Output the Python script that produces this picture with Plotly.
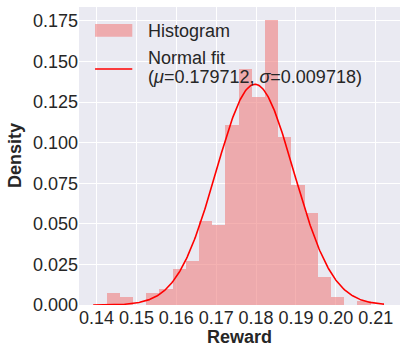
# Histogram of rewards with a fitted normal curve.

import numpy as np
import plotly.graph_objects as go

# histogram: 20 equal bins starting at bin_start, heights as fraction of samples per bin
bin_start = 0.1425
bin_width = 0.0033125
bin_heights = [
    0.0073, 0.0049, 0.0, 0.0073, 0.0098, 0.0222, 0.0272, 0.0519, 0.0494, 0.1111,
    0.1457, 0.1284, 0.1753, 0.1037, 0.0741, 0.0568, 0.0173, 0.0049, 0.0, 0.0025,
]

# normal fit parameters and the x span the curve was drawn over
fit_mu = 0.179712
fit_sigma = 0.009718
fit_x_span = [0.13915, 0.21208]

x_ticks = [0.14, 0.15, 0.16, 0.17, 0.18, 0.19, 0.20, 0.21]
y_ticks = [0.0, 0.025, 0.05, 0.075, 0.1, 0.125, 0.15, 0.175]

FONT = "Liberation Sans, Arial, sans-serif"
TEXT = "#262626"
BAR = "lightcoral"
FS = 18

centers = bin_start + bin_width * (np.arange(len(bin_heights)) + 0.5)

fit_x = np.linspace(fit_x_span[0], fit_x_span[1], 400)
fit_y = np.exp(-0.5 * ((fit_x - fit_mu) / fit_sigma) ** 2) / (fit_sigma * np.sqrt(2 * np.pi))
fit_y = fit_y * bin_width  # same scale as the per-bin fractions

fig = go.Figure()
fig.add_trace(
    go.Bar(
        x=centers,
        y=bin_heights,
        width=bin_width,
        marker=dict(color=BAR, line=dict(width=0)),
        opacity=0.6,
        name="Histogram",
        showlegend=False,
    )
)
fig.add_trace(
    go.Scatter(
        x=fit_x,
        y=fit_y,
        mode="lines",
        line=dict(color="red", width=1.6),
        name="Normal fit",
        showlegend=False,
    )
)

# legend drawn by hand to get matplotlib-sized handles
fig.add_shape(
    type="rect", xref="paper", yref="paper",
    x0=0.05, x1=0.166, y0=0.900, y1=0.943,
    fillcolor=BAR, opacity=0.6, line=dict(width=0), layer="above",
)
fig.add_shape(
    type="line", xref="paper", yref="paper",
    x0=0.05, x1=0.166, y0=0.792, y1=0.792,
    line=dict(color="red", width=1.6), layer="above",
)
legend_font = dict(family=FONT, size=FS, color=TEXT)
fig.add_annotation(
    text="Histogram", xref="paper", yref="paper", x=0.21, y=0.92,
    xanchor="left", yanchor="middle", showarrow=False, font=legend_font,
)
fig.add_annotation(
    text="Normal fit", xref="paper", yref="paper", x=0.21, y=0.83,
    xanchor="left", yanchor="middle", showarrow=False, font=legend_font,
)
fig.add_annotation(
    text=f"(<i>μ</i>={fit_mu:.6f}, <i>σ</i>={fit_sigma:.6f})",
    xref="paper", yref="paper", x=0.21, y=0.765,
    xanchor="left", yanchor="middle", showarrow=False, font=legend_font,
)

# axis titles
fig.add_annotation(
    text="<b>Reward</b>", xref="paper", yref="paper", x=0.5, y=-0.108,
    xanchor="center", yanchor="middle", showarrow=False, font=legend_font,
)
fig.add_annotation(
    text="<b>Density</b>", xref="paper", yref="paper", x=-0.199, y=0.5,
    textangle=-90, xanchor="center", yanchor="middle", showarrow=False, font=legend_font,
)

fig.update_layout(
    width=407,
    height=356,
    margin=dict(l=79, r=7, t=7, b=51),
    paper_bgcolor="white",
    plot_bgcolor="#EAEAF2",
    bargap=0,
    font=dict(family=FONT, size=FS, color=TEXT),
    xaxis=dict(
        range=[0.1356, 0.2161],
        tickvals=x_ticks,
        tickformat=".2f",
        gridcolor="white",
        gridwidth=1,
        zeroline=False,
        showline=False,
        ticks="",
        automargin=False,
    ),
    yaxis=dict(
        range=[0, 0.1836],
        tickvals=y_ticks,
        tickformat=".3f",
        gridcolor="white",
        gridwidth=1,
        zeroline=False,
        showline=False,
        ticks="",
        automargin=False,
    ),
)

fig.write_html(
    "out.html",
    config={"displayModeBar": False},
    post_script="document.body.style.margin = '0';",
)
